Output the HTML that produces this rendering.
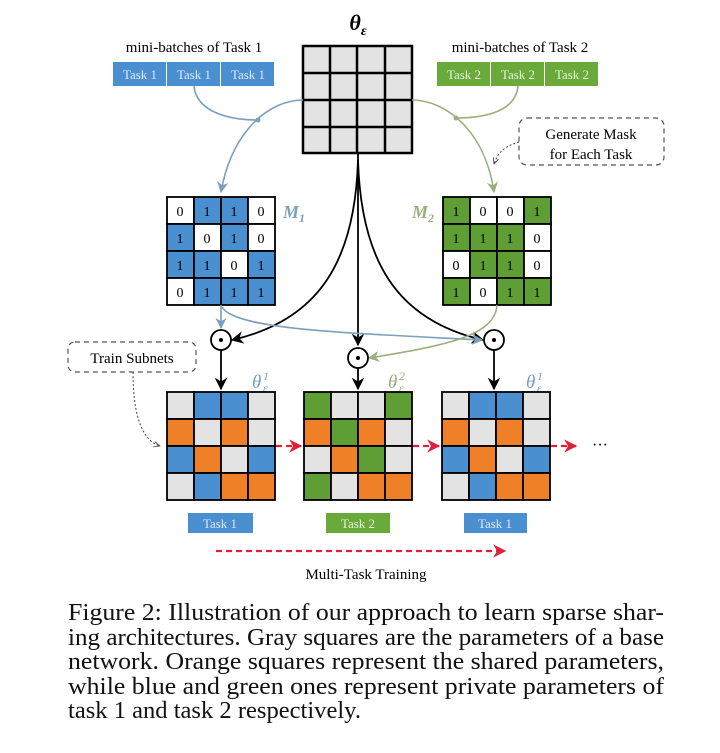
<!DOCTYPE html>
<html><head><meta charset="utf-8"><style>
html,body{margin:0;padding:0;background:#fff;}
svg{display:block;}
text{font-family:"Liberation Serif",serif;}
</style></head><body>
<svg width="720" height="753" viewBox="0 0 720 753" xmlns="http://www.w3.org/2000/svg">
<defs>
<marker id="ak" viewBox="0 0 10 10" refX="9" refY="5" markerWidth="7" markerHeight="7" orient="auto"><path d="M0,0 L10,5 L0,10 L3,5 z" fill="#000"/></marker>
<marker id="ab" viewBox="0 0 10 10" refX="9" refY="5" markerWidth="7" markerHeight="7" orient="auto"><path d="M0,0 L10,5 L0,10 L3,5 z" fill="#7aa0bd"/></marker>
<marker id="ag" viewBox="0 0 10 10" refX="9" refY="5" markerWidth="7" markerHeight="7" orient="auto"><path d="M0,0 L10,5 L0,10 L3,5 z" fill="#9ab07e"/></marker>
<marker id="ar" viewBox="0 0 10 10" refX="9" refY="5" markerWidth="6" markerHeight="6" orient="auto"><path d="M0,0 L10,5 L0,10 L3,5 z" fill="#e0203a"/></marker>
<marker id="ad" viewBox="0 0 10 10" refX="9" refY="5" markerWidth="7" markerHeight="7" orient="auto"><path d="M0,1 L9,5 L0,9" fill="none" stroke="#444" stroke-width="1.2"/></marker>
</defs>

<text x="358" y="30" font-size="22" font-weight="bold" font-style="italic" text-anchor="middle">θ<tspan font-size="14" dy="5">ε</tspan></text>

<g stroke="#000" stroke-width="2.5" fill="#e3e3e3">
<rect x="303" y="46" width="109" height="107"/>
</g>
<g stroke="#000" stroke-width="2.5">
<line x1="330" y1="46" x2="330" y2="153"/><line x1="357" y1="46" x2="357" y2="153"/><line x1="385" y1="46" x2="385" y2="153"/>
<line x1="303" y1="73" x2="412" y2="73"/><line x1="303" y1="100" x2="412" y2="100"/><line x1="303" y1="127" x2="412" y2="127"/>
</g>

<text x="194" y="52" font-size="15" text-anchor="middle">mini-batches of Task 1</text>
<text x="520" y="52" font-size="15" text-anchor="middle">mini-batches of Task 2</text>
<g fill="#4a8fd0"><rect x="113" y="62" width="53" height="24"/><rect x="167" y="62" width="53" height="24"/><rect x="221" y="62" width="53" height="24"/></g>
<g fill="#6aaa3a"><rect x="437" y="62" width="53" height="24"/><rect x="491" y="62" width="53" height="24"/><rect x="545" y="62" width="53" height="24"/></g>
<g fill="#dfe9f5" font-size="13" text-anchor="middle">
<text x="140" y="79">Task 1</text><text x="194" y="79">Task 1</text><text x="248" y="79">Task 1</text>
</g>
<g fill="#e6f2dc" font-size="13" text-anchor="middle">
<text x="464" y="79">Task 2</text><text x="518" y="79">Task 2</text><text x="572" y="79">Task 2</text>
</g>

<path d="M303,100 C270,100 232,130 221,192" fill="none" stroke="#7aa0bd" stroke-width="1.6" marker-end="url(#ab)"/>
<path d="M194,86 C196,110 225,120 258,120" fill="none" stroke="#7aa0bd" stroke-width="1.6"/>
<circle cx="258" cy="120" r="2.5" fill="#7aa0bd"/>
<path d="M412,100 C445,100 485,130 494,192" fill="none" stroke="#9ab07e" stroke-width="1.6" marker-end="url(#ag)"/>
<path d="M518,86 C516,110 488,118 456,118" fill="none" stroke="#9ab07e" stroke-width="1.6"/>
<circle cx="456" cy="118" r="2.5" fill="#9ab07e"/>

<rect x="519" y="118" width="145" height="47" rx="8" fill="none" stroke="#555" stroke-width="1.2" stroke-dasharray="5,4"/>
<text x="591" y="139" font-size="15" text-anchor="middle">Generate Mask</text>
<text x="591" y="159" font-size="15" text-anchor="middle">for Each Task</text>
<path d="M519,142 C505,146 498,152 494,164" fill="none" stroke="#444" stroke-width="1" stroke-dasharray="2,2" marker-end="url(#ad)"/>

<g stroke="#000" stroke-width="1.8">
<rect x="167" y="197" width="27" height="27" fill="#fff"/><rect x="194" y="197" width="27" height="27" fill="#4a8fd0"/><rect x="221" y="197" width="27" height="27" fill="#4a8fd0"/><rect x="248" y="197" width="27" height="27" fill="#fff"/>
<rect x="167" y="224" width="27" height="27" fill="#4a8fd0"/><rect x="194" y="224" width="27" height="27" fill="#fff"/><rect x="221" y="224" width="27" height="27" fill="#4a8fd0"/><rect x="248" y="224" width="27" height="27" fill="#fff"/>
<rect x="167" y="251" width="27" height="27" fill="#4a8fd0"/><rect x="194" y="251" width="27" height="27" fill="#4a8fd0"/><rect x="221" y="251" width="27" height="27" fill="#fff"/><rect x="248" y="251" width="27" height="27" fill="#4a8fd0"/>
<rect x="167" y="278" width="27" height="27" fill="#fff"/><rect x="194" y="278" width="27" height="27" fill="#4a8fd0"/><rect x="221" y="278" width="27" height="27" fill="#4a8fd0"/><rect x="248" y="278" width="27" height="27" fill="#4a8fd0"/>
</g>
<g font-size="14" text-anchor="middle">
<text x="180" y="216">0</text><text x="207" y="216">1</text><text x="234" y="216">1</text><text x="261" y="216">0</text>
<text x="180" y="243">1</text><text x="207" y="243">0</text><text x="234" y="243">1</text><text x="261" y="243">0</text>
<text x="180" y="270">1</text><text x="207" y="270">1</text><text x="234" y="270">0</text><text x="261" y="270">1</text>
<text x="180" y="297">0</text><text x="207" y="297">1</text><text x="234" y="297">1</text><text x="261" y="297">1</text>
</g>
<text x="283" y="218" font-size="18" font-weight="bold" font-style="italic" fill="#7aa0bd">M<tspan font-size="12" dy="4">1</tspan></text>

<g stroke="#000" stroke-width="1.8">
<rect x="443" y="197" width="27" height="27" fill="#5e9e35"/><rect x="470" y="197" width="27" height="27" fill="#fff"/><rect x="497" y="197" width="27" height="27" fill="#fff"/><rect x="524" y="197" width="27" height="27" fill="#5e9e35"/>
<rect x="443" y="224" width="27" height="27" fill="#5e9e35"/><rect x="470" y="224" width="27" height="27" fill="#5e9e35"/><rect x="497" y="224" width="27" height="27" fill="#5e9e35"/><rect x="524" y="224" width="27" height="27" fill="#fff"/>
<rect x="443" y="251" width="27" height="27" fill="#fff"/><rect x="470" y="251" width="27" height="27" fill="#5e9e35"/><rect x="497" y="251" width="27" height="27" fill="#5e9e35"/><rect x="524" y="251" width="27" height="27" fill="#fff"/>
<rect x="443" y="278" width="27" height="27" fill="#5e9e35"/><rect x="470" y="278" width="27" height="27" fill="#fff"/><rect x="497" y="278" width="27" height="27" fill="#5e9e35"/><rect x="524" y="278" width="27" height="27" fill="#5e9e35"/>
</g>
<g font-size="14" text-anchor="middle">
<text x="456" y="216">1</text><text x="483" y="216">0</text><text x="510" y="216">0</text><text x="537" y="216">1</text>
<text x="456" y="243">1</text><text x="483" y="243">1</text><text x="510" y="243">1</text><text x="537" y="243">0</text>
<text x="456" y="270">0</text><text x="483" y="270">1</text><text x="510" y="270">1</text><text x="537" y="270">0</text>
<text x="456" y="297">1</text><text x="483" y="297">0</text><text x="510" y="297">1</text><text x="537" y="297">1</text>
</g>
<text x="412" y="218" font-size="18" font-weight="bold" font-style="italic" fill="#9ab07e">M<tspan font-size="12" dy="4">2</tspan></text>

<line x1="358" y1="153" x2="358" y2="345" stroke="#000" stroke-width="1.8" marker-end="url(#ak)"/>
<path d="M358,160 C355,260 320,320 232,340" fill="none" stroke="#000" stroke-width="1.8" marker-end="url(#ak)"/>
<path d="M358,160 C361,260 396,320 483,340" fill="none" stroke="#000" stroke-width="1.8" marker-end="url(#ak)"/>

<line x1="221" y1="305" x2="221" y2="328" stroke="#7aa0bd" stroke-width="1.6" marker-end="url(#ab)"/>
<path d="M222,307 C235,330 350,333 482,340" fill="none" stroke="#7aa0bd" stroke-width="1.6" marker-end="url(#ab)"/>
<path d="M497,305 C495,335 450,345 369,358" fill="none" stroke="#9ab07e" stroke-width="1.6" marker-end="url(#ag)"/>

<g fill="#fff" stroke="#000" stroke-width="1.8">
<circle cx="221" cy="340" r="10"/><circle cx="358" cy="358" r="10"/><circle cx="494" cy="340" r="10"/>
</g>
<g fill="#000"><circle cx="221" cy="340" r="2"/><circle cx="358" cy="358" r="2"/><circle cx="494" cy="340" r="2"/></g>
<g stroke="#000" stroke-width="1.8">
<line x1="221" y1="350" x2="221" y2="389" marker-end="url(#ak)"/>
<line x1="358" y1="368" x2="358" y2="389" marker-end="url(#ak)"/>
<line x1="494" y1="350" x2="494" y2="389" marker-end="url(#ak)"/>
</g>

<g font-size="19" font-style="italic">
<text x="252" y="388" fill="#7aa0bd">θ</text><text x="263" y="380" font-size="12" fill="#7aa0bd">1</text><text x="263" y="392" font-size="12" fill="#7aa0bd">ε</text>
<text x="388" y="388" fill="#9ab07e">θ</text><text x="399" y="380" font-size="12" fill="#9ab07e">2</text><text x="399" y="392" font-size="12" fill="#9ab07e">ε</text>
<text x="526" y="388" fill="#7aa0bd">θ</text><text x="537" y="380" font-size="12" fill="#7aa0bd">1</text><text x="537" y="392" font-size="12" fill="#7aa0bd">ε</text>
</g>

<g stroke="#000" stroke-width="1.8">
<rect x="167" y="392" width="27" height="27" fill="#e3e3e3"/><rect x="194" y="392" width="27" height="27" fill="#4a8fd0"/><rect x="221" y="392" width="27" height="27" fill="#4a8fd0"/><rect x="248" y="392" width="27" height="27" fill="#e3e3e3"/>
<rect x="167" y="419" width="27" height="27" fill="#f08028"/><rect x="194" y="419" width="27" height="27" fill="#e3e3e3"/><rect x="221" y="419" width="27" height="27" fill="#f08028"/><rect x="248" y="419" width="27" height="27" fill="#e3e3e3"/>
<rect x="167" y="446" width="27" height="27" fill="#4a8fd0"/><rect x="194" y="446" width="27" height="27" fill="#f08028"/><rect x="221" y="446" width="27" height="27" fill="#e3e3e3"/><rect x="248" y="446" width="27" height="27" fill="#4a8fd0"/>
<rect x="167" y="473" width="27" height="27" fill="#e3e3e3"/><rect x="194" y="473" width="27" height="27" fill="#4a8fd0"/><rect x="221" y="473" width="27" height="27" fill="#f08028"/><rect x="248" y="473" width="27" height="27" fill="#f08028"/>
<rect x="304" y="392" width="27" height="27" fill="#5e9e35"/><rect x="331" y="392" width="27" height="27" fill="#e3e3e3"/><rect x="358" y="392" width="27" height="27" fill="#e3e3e3"/><rect x="385" y="392" width="27" height="27" fill="#5e9e35"/>
<rect x="304" y="419" width="27" height="27" fill="#f08028"/><rect x="331" y="419" width="27" height="27" fill="#5e9e35"/><rect x="358" y="419" width="27" height="27" fill="#f08028"/><rect x="385" y="419" width="27" height="27" fill="#e3e3e3"/>
<rect x="304" y="446" width="27" height="27" fill="#e3e3e3"/><rect x="331" y="446" width="27" height="27" fill="#f08028"/><rect x="358" y="446" width="27" height="27" fill="#5e9e35"/><rect x="385" y="446" width="27" height="27" fill="#e3e3e3"/>
<rect x="304" y="473" width="27" height="27" fill="#5e9e35"/><rect x="331" y="473" width="27" height="27" fill="#e3e3e3"/><rect x="358" y="473" width="27" height="27" fill="#f08028"/><rect x="385" y="473" width="27" height="27" fill="#f08028"/>
<rect x="442" y="392" width="27" height="27" fill="#e3e3e3"/><rect x="469" y="392" width="27" height="27" fill="#4a8fd0"/><rect x="496" y="392" width="27" height="27" fill="#4a8fd0"/><rect x="523" y="392" width="27" height="27" fill="#e3e3e3"/>
<rect x="442" y="419" width="27" height="27" fill="#f08028"/><rect x="469" y="419" width="27" height="27" fill="#e3e3e3"/><rect x="496" y="419" width="27" height="27" fill="#f08028"/><rect x="523" y="419" width="27" height="27" fill="#e3e3e3"/>
<rect x="442" y="446" width="27" height="27" fill="#4a8fd0"/><rect x="469" y="446" width="27" height="27" fill="#f08028"/><rect x="496" y="446" width="27" height="27" fill="#e3e3e3"/><rect x="523" y="446" width="27" height="27" fill="#4a8fd0"/>
<rect x="442" y="473" width="27" height="27" fill="#e3e3e3"/><rect x="469" y="473" width="27" height="27" fill="#4a8fd0"/><rect x="496" y="473" width="27" height="27" fill="#f08028"/><rect x="523" y="473" width="27" height="27" fill="#f08028"/>
</g>

<g stroke="#e0203a" stroke-width="2.2" stroke-dasharray="6,4" fill="none">
<line x1="276" y1="446" x2="301" y2="446" marker-end="url(#ar)"/>
<line x1="413" y1="446" x2="439" y2="446" marker-end="url(#ar)"/>
<line x1="551" y1="446" x2="576" y2="446" marker-end="url(#ar)"/>
<line x1="216" y1="551" x2="505" y2="551" marker-end="url(#ar)"/>
</g>
<text x="592" y="450" font-size="16">···</text>

<rect x="68" y="342" width="128" height="30" rx="7" fill="none" stroke="#555" stroke-width="1.2" stroke-dasharray="5,4"/>
<text x="132" y="363" font-size="15" text-anchor="middle">Train Subnets</text>
<path d="M133,372 C133,410 140,440 160,446" fill="none" stroke="#444" stroke-width="1" stroke-dasharray="2,2" marker-end="url(#ad)"/>

<rect x="188" y="513" width="65" height="20" fill="#4a8fd0"/>
<rect x="326" y="513" width="64" height="20" fill="#6aaa3a"/>
<rect x="464" y="513" width="63" height="20" fill="#4a8fd0"/>
<g font-size="13" text-anchor="middle">
<text x="220" y="528" fill="#dfe9f5">Task 1</text>
<text x="358" y="528" fill="#e6f2dc">Task 2</text>
<text x="495" y="528" fill="#dfe9f5">Task 1</text>
</g>

<text x="366" y="579" font-size="15" text-anchor="middle">Multi-Task Training</text>

<g font-size="24" fill="#111">
<text x="68" y="620" textLength="596" lengthAdjust="spacingAndGlyphs">Figure 2: Illustration of our approach to learn sparse shar-</text>
<text x="68" y="645" textLength="596" lengthAdjust="spacingAndGlyphs">ing architectures. Gray squares are the parameters of a base</text>
<text x="68" y="669" textLength="596" lengthAdjust="spacingAndGlyphs">network. Orange squares represent the shared parameters,</text>
<text x="68" y="694" textLength="596" lengthAdjust="spacingAndGlyphs">while blue and green ones represent private parameters of</text>
<text x="68" y="718" textLength="293" lengthAdjust="spacingAndGlyphs">task 1 and task 2 respectively.</text>
</g>
</svg>
</body></html>
